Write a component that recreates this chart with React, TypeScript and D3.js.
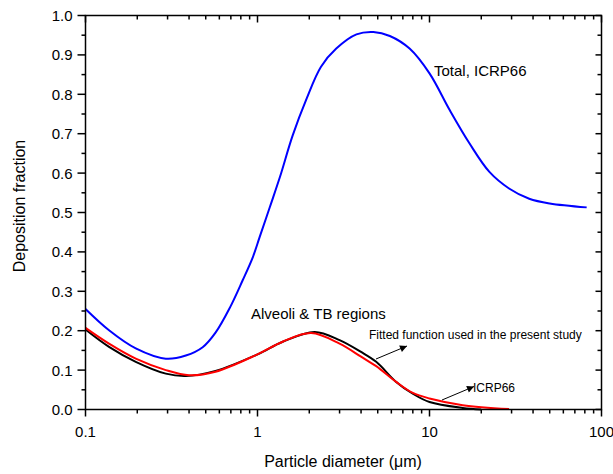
import React from "react";
import * as d3 from "d3";

const totalD = [0.1, 0.137, 0.196, 0.293, 0.383, 0.48, 0.57, 0.69, 0.82, 0.94, 1.03, 1.18, 1.35, 1.6, 1.93, 2.34, 2.87, 3.76, 4.72, 5.88, 7.66, 10, 13.1, 17.1, 22.3, 29, 38, 50, 82];
const totalV = [0.255, 0.201, 0.155, 0.129, 0.137, 0.158, 0.195, 0.258, 0.328, 0.387, 0.438, 0.514, 0.59, 0.695, 0.789, 0.87, 0.916, 0.952, 0.958, 0.948, 0.916, 0.853, 0.76, 0.675, 0.603, 0.561, 0.535, 0.523, 0.513];

const fitD = [0.1, 0.137, 0.196, 0.293, 0.383, 0.57, 1.0, 1.4, 2.15, 3, 4, 4.9, 6.4, 8, 10, 15.6, 20];
const fitV = [0.203, 0.159, 0.121, 0.091, 0.085, 0.098, 0.14, 0.172, 0.197, 0.176, 0.146, 0.121, 0.07, 0.04, 0.019, 0.004, 0.0];

const icrpD = [0.1, 0.137, 0.196, 0.293, 0.4, 0.57, 1.0, 1.4, 2.05, 3, 4, 4.9, 6.4, 8, 10, 15.6, 29];
const icrpV = [0.207, 0.167, 0.129, 0.1, 0.087, 0.096, 0.14, 0.172, 0.194, 0.167, 0.134, 0.11, 0.07, 0.042, 0.028, 0.011, 0.001];

const xTicks = [0.1, 1, 10, 100];
const xTickLabels = ["0.1", "1", "10", "100"];
const yTicks = [0, 0.1, 0.2, 0.3, 0.4, 0.5, 0.6, 0.7, 0.8, 0.9, 1.0];

const W = 613, H = 474;
const L = 85.5, R = 601.5, T = 15.5, B = 409.5;
const FONT = "Arial, 'Liberation Sans', sans-serif";

export default function App() {
  const x = d3.scaleLog().domain([0.1, 100]).range([L, R]);
  const y = d3.scaleLinear().domain([0, 1]).range([B, T]);

  const minorX: number[] = [];
  for (let e = -1; e < 2; e++) for (let k = 2; k <= 9; k++) minorX.push(k * Math.pow(10, e));
  const minorY = d3.range(0, 10).map((i) => 0.05 + i * 0.1);

  const line = d3
    .line<[number, number]>()
    .x((p) => x(p[0]))
    .y((p) => y(p[1]))
    .curve(d3.curveCatmullRom.alpha(0.5));

  const mk = (ds: number[], vs: number[]) => ds.map((d, i) => [d, vs[i]] as [number, number]);

  return (
    <svg width={W} height={H} style={{ position: "absolute", left: 0, top: 0 }} fontFamily={FONT}>
      <defs>
        <marker id="ah" viewBox="0 0 10 10" refX="10" refY="5" markerWidth="9" markerHeight="7" orient="auto" markerUnits="userSpaceOnUse">
          <path d="M0,0 L10,5 L0,10 z" fill="#000" />
        </marker>
      </defs>
      <rect x={0} y={0} width={W} height={H} fill="#fff" />

      {/* curves */}
      <path d={line(mk(totalD, totalV)) || ""} fill="none" stroke="#0000ff" strokeWidth={2} />
      <path d={line(mk(fitD, fitV)) || ""} fill="none" stroke="#000" strokeWidth={2} />
      <path d={line(mk(icrpD, icrpV)) || ""} fill="none" stroke="#ff0000" strokeWidth={2} />

      {/* frame */}
      <rect x={L} y={T} width={R - L} height={B - T} fill="none" stroke="#000" strokeWidth={1.5} />

      {/* y ticks left (outward) and right (inward) */}
      {yTicks.map((v) => (
        <g key={"y" + v}>
          <line x1={L - 8} x2={L} y1={y(v)} y2={y(v)} stroke="#000" strokeWidth={1.5} />
          <line x1={R - 6} x2={R} y1={y(v)} y2={y(v)} stroke="#000" strokeWidth={1.5} />
          <text x={L - 13} y={y(v)} dy="0.36em" textAnchor="end" fontSize={15}>
            {v.toFixed(1)}
          </text>
        </g>
      ))}
      {minorY.map((v) => (
        <g key={"my" + v}>
          <line x1={L - 4} x2={L} y1={y(v)} y2={y(v)} stroke="#000" strokeWidth={1.5} />
          <line x1={R - 4} x2={R} y1={y(v)} y2={y(v)} stroke="#000" strokeWidth={1.5} />
        </g>
      ))}

      {/* x ticks bottom (outward) and top (inward) */}
      {xTicks.map((v, i) => (
        <g key={"x" + v}>
          <line x1={x(v)} x2={x(v)} y1={B} y2={B + 7} stroke="#000" strokeWidth={1.5} />
          <line x1={x(v)} x2={x(v)} y1={T} y2={T + 7} stroke="#000" strokeWidth={1.5} />
          <text x={x(v)} y={437} textAnchor="middle" fontSize={15}>
            {xTickLabels[i]}
          </text>
        </g>
      ))}
      {minorX.map((v) => (
        <g key={"mx" + v}>
          <line x1={x(v)} x2={x(v)} y1={B} y2={B + 4} stroke="#000" strokeWidth={1.5} />
          <line x1={x(v)} x2={x(v)} y1={T} y2={T + 4} stroke="#000" strokeWidth={1.5} />
        </g>
      ))}

      {/* axis titles */}
      <text x={343} y={467} textAnchor="middle" fontSize={16}>
        Particle diameter (μm)
      </text>
      <text transform="translate(25,206) rotate(-90)" textAnchor="middle" fontSize={16}>
        Deposition fraction
      </text>

      {/* annotations */}
      <text x={434} y={76} fontSize={15}>Total, ICRP66</text>
      <text x={251} y={319} fontSize={15}>Alveoli &amp; TB regions</text>
      <text x={369} y={339} fontSize={12}>Fitted function used in the present study</text>
      <line x1={376} y1={359} x2={407} y2={346} stroke="#000" strokeWidth={1} markerEnd="url(#ah)" />
      <text x={473} y={392} fontSize={12}>ICRP66</text>
      <line x1={442} y1={400} x2={474} y2={386.5} stroke="#000" strokeWidth={1} markerEnd="url(#ah)" />
    </svg>
  );
}
